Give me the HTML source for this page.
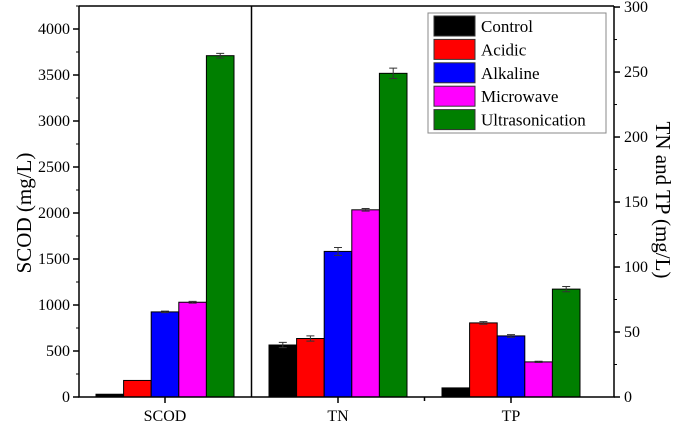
<!DOCTYPE html>
<html><head><meta charset="utf-8"><style>
body{margin:0;background:#fff}
svg{display:block}
svg text{font-family:"Liberation Serif","Times New Roman",serif}
</style></head><body>
<svg id="c" width="685" height="424" viewBox="0 0 685 424" font-family="Liberation Serif, serif"></svg>
<script>
const categories=["SCOD","TN","TP"];
const seriesNames=["Control","Acidic","Alkaline","Microwave","Ultrasonication"];
const colors=["#000000","#ff0000","#0000ff","#ff00ff","#007f00"];
const scodValues=[30,180,925,1030,3710];
const scodErrors=[0,0,8,10,25];
const tnValues=[40,45,112,144,249];
const tnErrors=[2,2,3,1,4];
const tpValues=[7,57,47,27,83];
const tpErrors=[0,1,1,0.5,2];
const leftTicks=[0,500,1000,1500,2000,2500,3000,3500,4000];
const rightTicks=[0,50,100,150,200,250,300];

const NS="http://www.w3.org/2000/svg";
const svg=document.getElementById('c');
const X0=79,X1=614,Y0=397,YT=6;
const yL=v=>Y0-v*(Y0-YT)/4250;
const yR=v=>Y0-v*(Y0-YT)/300.8;
const cx=i=>165+173*i;
const BW=27.6;
const FF='Liberation Serif, serif';
function el(t,a,p){const e=document.createElementNS(NS,t);for(const k in a)e.setAttribute(k,a[k]);if(t==='text')e.setAttribute('font-family',FF);(p||svg).appendChild(e);return e;}

const groups=[[scodValues,scodErrors,yL],[tnValues,tnErrors,yR],[tpValues,tpErrors,yR]];
groups.forEach((g,gi)=>{
  g[0].forEach((v,si)=>{
    const x=cx(gi)-2.5*BW+si*BW, y=g[2](v);
    const r=el('rect',{x:x,y:y,width:BW,height:Y0-y,fill:colors[si],stroke:'#000','stroke-width':1});
    
    
    const e=g[1][si];
    if(e>0){
      const xm=x+BW/2,yt=g[2](v+e),yb=g[2](v-e);
      const eb=el('path',{d:`M${xm} ${yt}V${yb}M${xm-4} ${yt}H${xm+4}M${xm-4} ${yb}H${xm+4}`,stroke:'#333','stroke-width':1,fill:'none'});
      
      
    }
  });
});
el('path',{d:`M${X0} ${YT}H${X1}M${X0} ${YT}V${Y0}H${X1}V${YT}M251.5 ${YT}V${Y0}`,stroke:'#000','stroke-width':1.5,fill:'none'});
categories.forEach((c,i)=>{
  el('line',{x1:cx(i),x2:cx(i),y1:Y0,y2:Y0+6,stroke:'#000','stroke-width':1.5});
  const t=el('text',{x:cx(i),y:Y0+24,'text-anchor':'middle','font-size':16});
  t.textContent=c;
  
  
});
[424.5].forEach(x=>el('line',{x1:x,x2:x,y1:Y0,y2:Y0+4,stroke:'#000','stroke-width':1.5}));
leftTicks.forEach(v=>{
  el('line',{x1:X0-6,x2:X0,y1:yL(v),y2:yL(v),stroke:'#000','stroke-width':1.5});
  el('line',{x1:X0-3,x2:X0,y1:yL(v+250),y2:yL(v+250),stroke:'#000','stroke-width':1});
  const t=el('text',{x:X0-9,y:yL(v)+5,'text-anchor':'end','font-size':16});
  t.textContent=v;
  
  
});
rightTicks.forEach(v=>{
  el('line',{x1:X1,x2:X1+6,y1:yR(v),y2:yR(v),stroke:'#000','stroke-width':1.5});
  if(v<300)el('line',{x1:X1,x2:X1+3,y1:yR(v+25),y2:yR(v+25),stroke:'#000','stroke-width':1});
  const t=el('text',{x:X1+10,y:yR(v)+5,'text-anchor':'start','font-size':16});
  t.textContent=v;
  
  
});
let t=el('text',{x:0,y:0,'text-anchor':'middle','font-size':21,transform:'translate(31,213) rotate(-90)'});
t.textContent='SCOD (mg/L)';


t=el('text',{x:0,y:0,'text-anchor':'middle','font-size':21,transform:'translate(656,200) rotate(90)'});
t.textContent='TN and TP (mg/L)';


const lg=el('g',{});


el('rect',{x:428,y:13,width:178,height:120,fill:'#fff',stroke:'#888','stroke-width':1},lg);
seriesNames.forEach((n,i)=>{
  const y=16+i*23.4;
  el('rect',{x:434,y:y,width:41,height:20,fill:colors[i],stroke:'#333','stroke-width':1},lg);
  const tx=el('text',{x:481,y:y+16,'font-size':17},lg);
  tx.textContent=n;
  
  
});
</script>
</body></html>
